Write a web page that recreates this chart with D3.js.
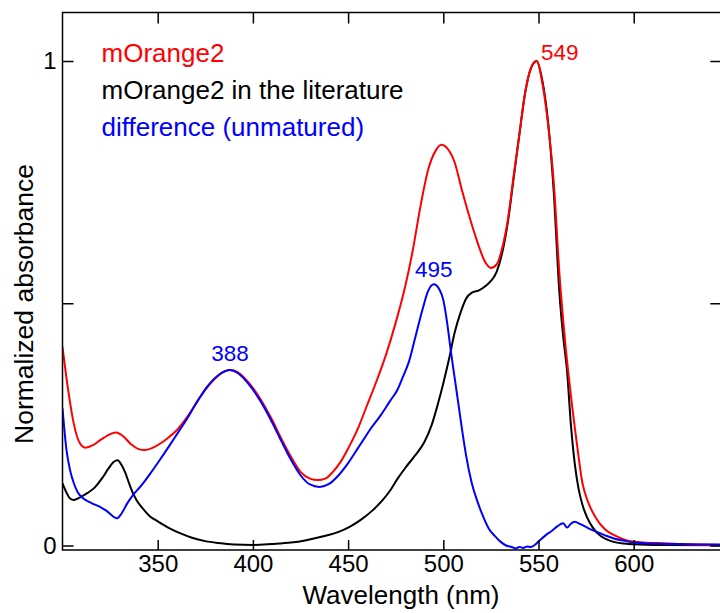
<!DOCTYPE html>
<html><head><meta charset="utf-8">
<script src="https://cdn.jsdelivr.net/npm/d3@7/dist/d3.min.js"></script>
<style>body{margin:0;background:#fff}svg{display:block}</style>
</head><body><svg id="chart" width="720" height="613"></svg>
<script>
// ---- data ----
const redWl  = [300,303,306,309,312,316,320,324,328,332,336,340,343,347,352,356,360,366,372,378,384,388,392,398,404,410,415,420,425,430,434,438,442,446,450,455,460,465,470,475,480,484,488,492,496,499,502,506,510,514,518,522,525,528,531,534,537,540,543,546,549,552,555,558,561,564,567,570,573,576,580,585,590,596,605,615,630,646];
const redAbs = [0.41,0.32,0.25,0.212,0.202,0.207,0.218,0.228,0.233,0.225,0.209,0.199,0.197,0.201,0.212,0.224,0.238,0.268,0.305,0.336,0.357,0.362,0.358,0.335,0.302,0.26,0.22,0.183,0.152,0.138,0.135,0.138,0.152,0.172,0.2,0.24,0.29,0.34,0.395,0.46,0.535,0.61,0.7,0.775,0.815,0.827,0.82,0.79,0.73,0.675,0.625,0.585,0.573,0.58,0.615,0.675,0.765,0.85,0.935,0.985,1.0,0.955,0.87,0.75,0.56,0.42,0.31,0.215,0.13,0.09,0.058,0.033,0.021,0.011,0.006,0.0045,0.002,0.001];

const litWl  = [300,302,304,306,309,313,317,321,324,327,329,331,333,335,337,339,342,346,350,356,362,368,375,382,390,400,410,420,428,437,445,451,457,463,468,472,476,480,485,490,494,497,500,503,506,509,512,515,519,522,525,528,531,534,537,540,543,546,549,552,555,558,561,563,565,567,569,571,573,575.5,578,581,585,589,595,600,615,646];
const litAbs = [0.128,0.11,0.097,0.094,0.099,0.108,0.12,0.14,0.158,0.173,0.176,0.166,0.15,0.128,0.108,0.093,0.077,0.06,0.05,0.036,0.025,0.016,0.009,0.005,0.002,0.001,0.003,0.006,0.011,0.019,0.028,0.039,0.054,0.073,0.093,0.113,0.138,0.16,0.185,0.213,0.25,0.29,0.335,0.385,0.44,0.48,0.51,0.522,0.527,0.535,0.546,0.565,0.605,0.67,0.76,0.85,0.935,0.985,1.0,0.96,0.875,0.73,0.52,0.43,0.36,0.25,0.17,0.118,0.085,0.058,0.04,0.025,0.014,0.008,0.004,0.0025,0.001,0.0005];

const diffWl  = [300,302,304,306,308,311,315,320,323,326,328.5,331,334,337,341,346,351,356,361,365,370,376,382,388,392,398,404,410,415,420,425,430,435,440,445,450,455,458,462,467,472,476,479,482,485,489,492,495,498,500,502,504,506,508,510,512,515,518,521,524,527,530,533,536,538,540,542,544,546,548,551,554,557,560,563,565,567,569,572,576,580,585,590,596,600,610,625,646];
const diffAbs = [0.283,0.2,0.155,0.128,0.11,0.097,0.088,0.079,0.072,0.062,0.056,0.066,0.087,0.104,0.122,0.148,0.176,0.205,0.235,0.259,0.292,0.328,0.352,0.362,0.356,0.332,0.298,0.255,0.215,0.177,0.145,0.126,0.121,0.127,0.145,0.17,0.2,0.218,0.242,0.268,0.298,0.322,0.35,0.38,0.425,0.486,0.525,0.539,0.528,0.507,0.46,0.4,0.345,0.29,0.235,0.185,0.128,0.09,0.059,0.034,0.02,0.008,0.0,-0.003,-0.006,-0.003,-0.005,-0.002,-0.003,0.001,0.012,0.022,0.03,0.04,0.046,0.037,0.045,0.049,0.044,0.036,0.029,0.021,0.014,0.009,0.006,0.004,0.003,0.002];

const seriesNames  = ["mOrange2","mOrange2 in the literature","difference (unmatured)"];
const seriesColors = ["#ff0000","#000000","#0000ff"];

const xTicks = [350,400,450,500,550,600];
const yTicks = [0,0.5,1];
const yTickLabels = ["0","","1"];

const peakWl    = [388,495,549];
const peakAbs   = [0.362,0.539,1.0];
const peakText  = ["388","495","549"];
const peakColor = ["#0000ff","#0000ff","#ff0000"];

// ---- drawing ----
const svg = d3.select("#chart");
const FONT = "'Liberation Sans', Arial, Helvetica, sans-serif";
const L = 62.5, R = 721.3, T = 12.5, B = 550;
const x = d3.scaleLinear().domain([300, 646]).range([L, R]);
const y = d3.scaleLinear().domain([0, 1]).range([545.5, 61]);

const clipId = "plotclip";
svg.append("defs").append("clipPath").attr("id", clipId)
  .append("rect").attr("x", L).attr("y", T).attr("width", R - L).attr("height", B - T);

const line = d3.line().x(d => x(d[0])).y(d => y(d[1])).curve(d3.curveMonotoneX);
const zip = (a, b) => a.map((v, i) => [v, b[i]]);
const series = [
  {data: zip(litWl, litAbs), color: seriesColors[1]},
  {data: zip(redWl, redAbs), color: seriesColors[0]},
  {data: zip(diffWl, diffAbs), color: seriesColors[2]}
];
const g = svg.append("g").attr("clip-path", `url(#${clipId})`);
series.forEach(s => {
  g.append("path").attr("d", line(s.data)).attr("fill", "none")
    .attr("stroke", s.color).attr("stroke-width", 2).attr("stroke-linejoin", "round");
});

// axes
function styleAxis(sel, fs) {
  sel.select(".domain").remove();
  sel.selectAll("line").attr("stroke", "#000").attr("stroke-width", 1.5);
  sel.selectAll("text").attr("font-family", FONT).attr("font-size", fs).attr("fill", "#000");
}
svg.append("g").attr("transform", `translate(0,${B})`)
  .call(d3.axisBottom(x).tickValues(xTicks).tickSize(-10).tickPadding(5).tickFormat(d3.format("d")))
  .call(s => styleAxis(s, 24));
svg.append("g").attr("transform", `translate(0,${T})`)
  .call(d3.axisTop(x).tickValues(xTicks).tickSize(-11).tickFormat(""))
  .call(s => styleAxis(s, 24));
svg.append("g").attr("transform", `translate(${L},0)`)
  .call(d3.axisLeft(y).tickValues(yTicks).tickSize(-11).tickPadding(6).tickFormat((d, i) => yTickLabels[i]))
  .call(s => styleAxis(s, 24));
svg.append("g").attr("transform", `translate(${R},0)`)
  .call(d3.axisRight(y).tickValues(yTicks).tickSize(-11).tickFormat(""))
  .call(s => styleAxis(s, 24));

svg.append("rect").attr("x", L).attr("y", T).attr("width", R - L).attr("height", B - T)
  .attr("fill", "none").attr("stroke", "#000").attr("stroke-width", 1.5);

// axis titles
svg.append("text").attr("x", 401).attr("y", 604)
  .attr("text-anchor", "middle").attr("font-family", FONT).attr("font-size", 26)
  .text("Wavelength (nm)");
svg.append("text").attr("transform", "translate(33,304) rotate(-90)")
  .attr("text-anchor", "middle").attr("font-family", FONT).attr("font-size", 26.5)
  .text("Normalized absorbance");

// legend
seriesNames.forEach((n, i) => {
  svg.append("text").attr("x", 101.5).attr("y", 62 + i * 37)
    .attr("font-family", FONT).attr("font-size", 26).attr("fill", seriesColors[i]).text(n);
});

// peak annotations
const annOffsets = [{dx: 0, dy: -9.5, anchor: "middle"}, {dx: 0, dy: -7, anchor: "middle"}, {dx: 4.5, dy: -1, anchor: "start"}];
peakWl.forEach((w, i) => {
  svg.append("text").attr("x", x(w) + annOffsets[i].dx).attr("y", y(peakAbs[i]) + annOffsets[i].dy)
    .attr("text-anchor", annOffsets[i].anchor).attr("font-family", FONT).attr("font-size", 22.5)
    .attr("fill", peakColor[i]).text(peakText[i]);
});
</script></body></html>
